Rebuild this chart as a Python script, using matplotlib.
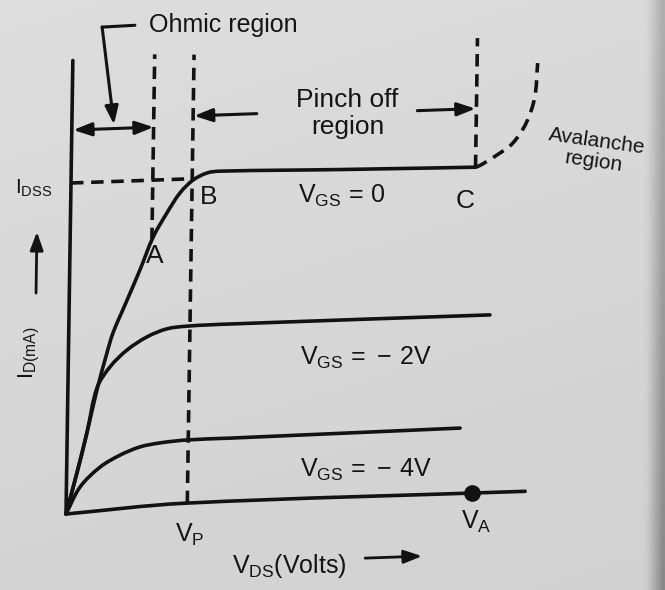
import numpy as np
import matplotlib
matplotlib.use("Agg")
import matplotlib.pyplot as plt
from matplotlib.transforms import Affine2D
from matplotlib.path import Path
from matplotlib.patches import PathPatch

# ---- JFET drain characteristics (V_DS in volts, I_D in mA) ----
vds_gs0 = [0, 0.34, 0.65, 0.96, 1.27, 1.46, 1.91, 2.32, 2.74, 3.18, 3.6, 4.03, 4.49, 4.91, 9.0, 13.35]
id_gs0 = [0, 1.23, 2.43, 3.72, 4.82, 5.42, 6.4, 7.3, 8.28, 8.99, 9.58, 9.96, 10.16, 10.2, 10.12, 10.05]

vds_gs2 = [0, 0.34, 0.65, 0.96, 1.38, 1.93, 2.59, 3.24, 3.9, 5.32, 13.9]
id_gs2 = [0, 1.23, 2.43, 3.78, 4.4, 4.89, 5.27, 5.49, 5.55, 5.57, 5.57]

vds_gs4 = [0, 0.45, 1.1, 1.75, 2.41, 3.07, 3.96, 5.38, 12.97]
id_gs4 = [0, 0.8, 1.38, 1.72, 1.95, 2.05, 2.11, 2.12, 2.18]

# V_DS axis line
vds_axis = [0, 3.9, 15.15]
id_axis = [0, 0.2, 0.2]

# breakdown (avalanche) branch of the V_GS = 0 curve
vds_aval = [13.35, 13.5, 14.06, 14.57, 15.0, 15.27, 15.35]
id_aval = [10.05, 10.1, 10.4, 10.74, 11.33, 12.1, 13.13]

I_DSS = 10.0
V_P = 4.0
V_OHM = 2.7       # end of the ohmic region (point A)
V_A = 13.4        # avalanche voltage (point C)
I_TOP = 13.7      # top of the axis / guide lines

curve_labels = ["V_{GS}\\,=\\,0", "V_{GS}\\,=\\,-\\,2V", "V_{GS}\\,=\\,-\\,4V"]

# ---- style ----
plt.rcParams["font.family"] = ["Liberation Sans", "DejaVu Sans"]
plt.rcParams["mathtext.fontset"] = "custom"
plt.rcParams["mathtext.rm"] = "Liberation Sans"
plt.rcParams["mathtext.it"] = "Liberation Sans"
plt.rcParams["mathtext.bf"] = "Liberation Sans:bold"
plt.rcParams["lines.scale_dashes"] = False
plt.rcParams["lines.solid_capstyle"] = "round"

INK = "#121212"
TXT = "#141414"
LW = 2.6
DASH = (9.0, 5.5)

fig = plt.figure(figsize=(6.65, 5.9), dpi=100)

# paper background
bg = fig.add_axes([0, 0, 1, 1], zorder=-5)
ny, nx = 60, 133
yy, xx = np.mgrid[0:1:ny * 1j, 0:1:nx * 1j]
paper = 0.865 - 0.035 * yy - 0.012 * xx
edge = np.clip((xx - 0.975) / 0.025, 0, 1)
paper = paper - 0.28 * edge * (0.6 + 0.4 * yy)
bg.imshow(paper, cmap="gray", vmin=0, vmax=1, aspect="auto",
          interpolation="bilinear", extent=(0, 1, 1, 0))
bg.axis("off")

ax = fig.add_axes([0, 0, 1, 1])
ax.set_xlim(-66 / 30.3, 599 / 30.3)
ax.set_ylim(-76 / 33.1, 514 / 33.1)
ax.axis("off")
ax.patch.set_alpha(0)

# slight skew of the printed page
skew = (Affine2D().translate(-66, -76)
        + Affine2D(np.array([[1.0, 0.0151, 0.0], [0.035, 1.0, 0.0], [0.0, 0.0, 1.0]]))
        + Affine2D().translate(66, 76))
tr = ax.transData + skew


def smooth_path(x, y):
    """Bezier path through the points, tangents from neighbouring points."""
    p = np.column_stack([x, y]).astype(float)
    n = len(p)
    tang = np.zeros_like(p)
    for i in range(n):
        d = p[min(i + 1, n - 1)] - p[max(i - 1, 0)]
        tang[i] = d / np.hypot(*d)
    verts, codes = [p[0]], [Path.MOVETO]
    for i in range(n - 1):
        h = np.hypot(*(p[i + 1] - p[i])) / 3.0
        verts += [p[i] + tang[i] * h, p[i + 1] - tang[i + 1] * h, p[i + 1]]
        codes += [Path.CURVE4] * 3
    return Path(verts, codes)


def curve(x, y, dashed=False, lw=LW):
    patch = PathPatch(smooth_path(x, y), fill=False, edgecolor=INK, lw=lw,
                      transform=tr, joinstyle="round", capstyle="butt" if dashed else "round")
    if dashed:
        patch.set_linestyle((0, DASH))
    ax.add_patch(patch)


def line(x, y, dashed=False, lw=LW):
    kw = dict(color=INK, lw=lw, transform=tr, solid_joinstyle="round")
    if dashed:
        kw.update(dashes=DASH, dash_capstyle="butt")
    ax.plot(x, y, **kw)


def arrow(x0, y0, x1, y1, style="-|>", lw=2.2):
    ax.annotate("", xy=(x1, y1), xytext=(x0, y0), xycoords=tr, textcoords=tr,
                arrowprops=dict(arrowstyle=style + ",head_length=0.55,head_width=0.2",
                                mutation_scale=20, lw=lw, color=INK,
                                shrinkA=0, shrinkB=0))


def label(x, y, s, size=18, **kw):
    kw.setdefault("ha", "center")
    kw.setdefault("va", "center")
    ax.text(x, y, s, fontsize=size, color=TXT, transform=tr, **kw)


# axes
line([0, 0], [0, I_TOP])
curve(vds_axis, id_axis)

# characteristic curves
curve(vds_gs0, id_gs0)
curve(vds_gs2, id_gs2)
curve(vds_gs4, id_gs4)
curve(vds_aval, id_aval, dashed=True)

# guide lines
line([0, V_P], [I_DSS, I_DSS], dashed=True)
line([V_OHM, V_OHM], [np.interp(V_OHM, vds_gs0, id_gs0), I_TOP + 0.1], dashed=True)
line([V_P, V_P], [0.2, I_TOP + 0.05], dashed=True)
line([V_A - 0.05, V_A - 0.05], [id_gs0[-1], I_TOP + 0.25], dashed=True)

# point V_A on the V_DS axis
ax.plot([V_A], [0.2], "o", ms=11, color=INK, transform=tr)

# region markers
arrow(0.05, 11.6, V_OHM, 11.6, style="<|-|>")
line([2.03, 0.95], [14.7, 14.68], lw=2.2)
arrow(0.95, 14.68, 1.39, 11.72)
arrow(6.1, 11.9, V_P + 0.03, 11.9)
arrow(11.4, 11.82, V_A - 0.08, 11.82)

label(4.94, 14.62, "Ohmic region", size=18)
label(9.1, 11.82, "Pinch off\nregion", size=19, linespacing=1.15)
label(17.3, 10.4, "Avalanche\nregion", size=15, rotation=-8, linespacing=1.1,
      multialignment="center", rotation_mode="anchor")

# point and curve labels
label(2.81, 7.7, "A", size=19)
label(4.56, 9.43, "B", size=19)
label(13.02, 9.03, "C", size=19)
label(7.5, 9.37, "$\\mathrm{" + curve_labels[0] + "}$", size=18, ha="left")
label(7.65, 4.47, "$\\mathrm{" + curve_labels[1] + "}$", size=18, ha="left")
label(7.7, 1.08, "$\\mathrm{" + curve_labels[2] + "}$", size=18, ha="left")

# axis labels
label(-0.6, 9.87, "$\\mathrm{I_{DSS}}$", size=15, ha="right")
label(4.1, -0.76, "$\\mathrm{V_P}$", size=18)
label(13.54, -0.67, "$\\mathrm{V_A}$", size=18)
label(7.39, -1.8, "$\\mathrm{V_{DS}(Volts)}$", size=18)
arrow(9.9, -1.65, 11.78, -1.65, lw=2.0)
label(-1.3, 4.9, "$\\mathrm{I_{D(mA)}}$", size=16, rotation=90)
arrow(-1.1, 6.71, -1.1, 8.56, lw=2.0)

fig.savefig("out.png", dpi=100)
